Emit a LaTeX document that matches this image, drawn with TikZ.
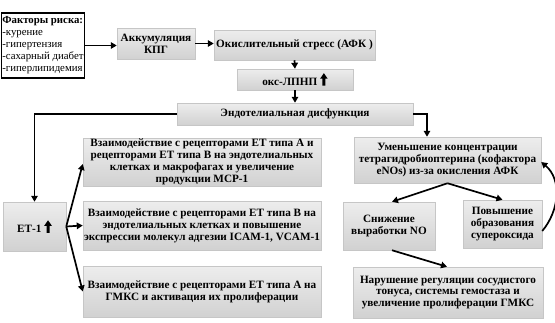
\documentclass[tikz,border=0pt]{standalone}
\usepackage{fontspec}
\setmainfont{Liberation Serif}
\usetikzlibrary{arrows.meta,positioning,calc}
\newcommand\uparr{\tikz[x=1pt,y=1pt,baseline=0pt]\fill[black] (-1.5,0)--(1.5,0)--(1.5,7)--(3.8,7)--(0,12.5)--(-3.8,7)--(-1.5,7)--cycle;}
\tikzset{
  gbox/.style={draw=gray!45, line width=0.5pt, top color=gray!14, bottom color=gray!36,
    font=\fontsize{11.2}{11.9}\selectfont\bfseries, align=center, inner sep=0pt},
  arr/.style={line width=1.7pt, -{Triangle[length=6pt,width=6.5pt]}},
}
\begin{document}
\begin{tikzpicture}[x=1pt,y=-1pt]
\useasboundingbox (0,0) rectangle (555,322);
% nodes
\node[draw=black, line width=1.3pt, fill=white, minimum width=80pt, minimum height=65pt, inner sep=1pt,
  align=left, font=\fontsize{10.8}{12}\selectfont] (risk) at (43,45.5)
  {\textbf{Факторы риска:}\\-курение\\-гипертензия\\-сахарный диабет\\-гиперлипидемия};
\node[gbox, minimum width=78pt, minimum height=31pt] (kpg) at (156,43.5) {Аккумуляция\\КПГ};
\node[gbox, minimum width=161pt, minimum height=30pt] (stress) at (294.5,45) {Окислительный стресс (АФК )};
\node[gbox, minimum width=116pt, minimum height=21pt] (ox) at (295,79.5) {окс-ЛПНП \uparr};
\node[gbox, minimum width=236pt, minimum height=22pt] (endo) at (295,114) {Эндотелиальная дисфункция};
\node[gbox, minimum width=238pt, minimum height=48pt] (boxA) at (202,162)
  {Взаимодействие с рецепторами ЕТ типа А и\\рецепторами ЕТ типа В на эндотелиальных\\клетках и макрофагах и увеличение\\продукции МСР-1};
\node[gbox, minimum width=238pt, minimum height=49pt] (boxB) at (202,225.5)
  {Взаимодействие с рецепторами ЕТ типа В на\\эндотелиальных клетках и повышение\\экспрессии молекул адгезии ICAM-1, VCAM-1};
\node[gbox, minimum width=238pt, minimum height=51pt] (boxC) at (202,291.5)
  {Взаимодействие с рецепторами ЕТ типа А на\\ГМКС и активация их пролиферации};
\node[gbox, minimum width=63pt, minimum height=49pt] (et) at (34.5,226.5) {ЕТ-1 \uparr};
\node[gbox, minimum width=187pt, minimum height=46pt] (red) at (447.5,160)
  {Уменьшение концентрации\\тетрагидробиоптерина (кофактора\\eNOs) из-за окисления АФК};
\node[gbox, minimum width=92pt, minimum height=48pt] (sn) at (389,226) {Снижение\\выработки NO};
\node[gbox, minimum width=79pt, minimum height=48pt] (pov) at (502.5,224) {Повышение\\образования\\супероксида};
\node[gbox, minimum width=190pt, minimum height=51pt] (nar) at (448,292.5)
  {Нарушение регуляции сосудистого\\тонуса, системы гемостаза и\\увеличение пролиферации ГМКС};
% connectors
\draw[arr] (risk.east) -- (risk.east -| kpg.west);
\draw[arr] (kpg.east) -- (kpg.east -| stress.west);
\draw[arr] (stress.south) -- (ox.north);
\draw[arr] (ox.south) -- (endo.north);
\draw[arr] (endo.east) -| ([xshift=-20.5pt]red.north);
\draw[arr] (endo.west) -| (et.north);
\draw[arr] (et.east) -- ([yshift=-2pt]boxA.west);
\draw[arr] (et.east) -- (boxB.west);
\draw[arr] (et.east) -- (boxC.west);
\draw[arr] (red.south) -- ([xshift=3pt]sn.north);
\draw[arr] (red.south) -- (pov.north);
\draw[arr] ([yshift=-7pt]pov.east) to[out=50,in=-40] ([yshift=-2pt]red.east);
\draw[arr] ([xshift=3pt]sn.south) -- ([xshift=-1pt]nar.north);
\end{tikzpicture}
\end{document}
